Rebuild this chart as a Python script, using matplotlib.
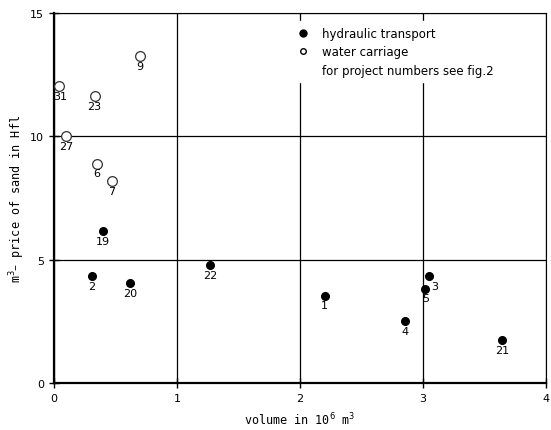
import matplotlib.pyplot as plt
from matplotlib.lines import Line2D

# hydraulic transport (filled)
hyd_no = ['1', '2', '3', '4', '5', '19', '20', '21', '22']
hyd_x = [2.20, 0.31, 3.05, 2.85, 3.02, 0.40, 0.62, 3.64, 1.27]
hyd_y = [3.55, 4.35, 4.35, 2.50, 3.83, 6.17, 4.07, 1.73, 4.80]

# water carriage (open)
wat_no = ['6', '7', '9', '23', '27', '31']
wat_x = [0.35, 0.47, 0.70, 0.33, 0.10, 0.04]
wat_y = [8.90, 8.20, 13.27, 11.65, 10.00, 12.06]

x_ticks = [0, 1, 2, 3, 4]
y_ticks = [0, 5, 10, 15]

fig = plt.figure(figsize=(5.51, 4.31), dpi=100)
ax = fig.add_axes([0.098, 0.109, 0.893, 0.858])
ax.set_xlim(0, 4)
ax.set_ylim(0, 15)
ax.set_xticks(x_ticks)
ax.set_yticks(y_ticks)
ax.tick_params(direction='inout', length=7, width=1, labelsize=8)
ax.grid(True, color='black', linewidth=0.9)
for s in ['left', 'bottom']:
    ax.spines[s].set_linewidth(1.6)
for s in ['top', 'right']:
    ax.spines[s].set_linewidth(0.8)

ax.plot(hyd_x, hyd_y, 'o', color='black', ms=5.5, zorder=3, clip_on=False)
ax.plot(wat_x, wat_y, 'o', mfc='white', mec='#333333', mew=0.9, ms=7, zorder=3, clip_on=False)

for n, x, y in zip(hyd_no + wat_no, hyd_x + wat_x, hyd_y + wat_y):
    dx = 0
    if n == '3':
        dx = 4
    elif n == '31':
        dx = 1
    ax.annotate(n, (x, y), xytext=(dx, -3.5), textcoords='offset points',
                ha='center', va='top', fontsize=8)

handles = [
    Line2D([], [], ls='none', marker='o', color='black', ms=5),
    Line2D([], [], ls='none', marker='o', mfc='white', mec='black', ms=4),
    Line2D([], [], ls='none'),
]
labels = ['hydraulic transport', 'water carriage', 'for project numbers see fig.2']
leg = ax.legend(handles, labels, loc='upper left', bbox_to_anchor=(0.47, 0.995),
                frameon=True, fancybox=False, edgecolor='white', facecolor='white',
                framealpha=1, fontsize=8.5, handlelength=1, handletextpad=1.1,
                labelspacing=0.45, borderpad=0.5)
leg.set_zorder(5)

ax.set_xlabel('volume in 10$^6$ m$^3$', fontsize=8.5, family='DejaVu Sans Mono', labelpad=6)
ax.set_ylabel('m$^3$– price of sand in Hfl', fontsize=8.5, family='DejaVu Sans Mono', labelpad=2)

fig.savefig('out.png', dpi=100)
